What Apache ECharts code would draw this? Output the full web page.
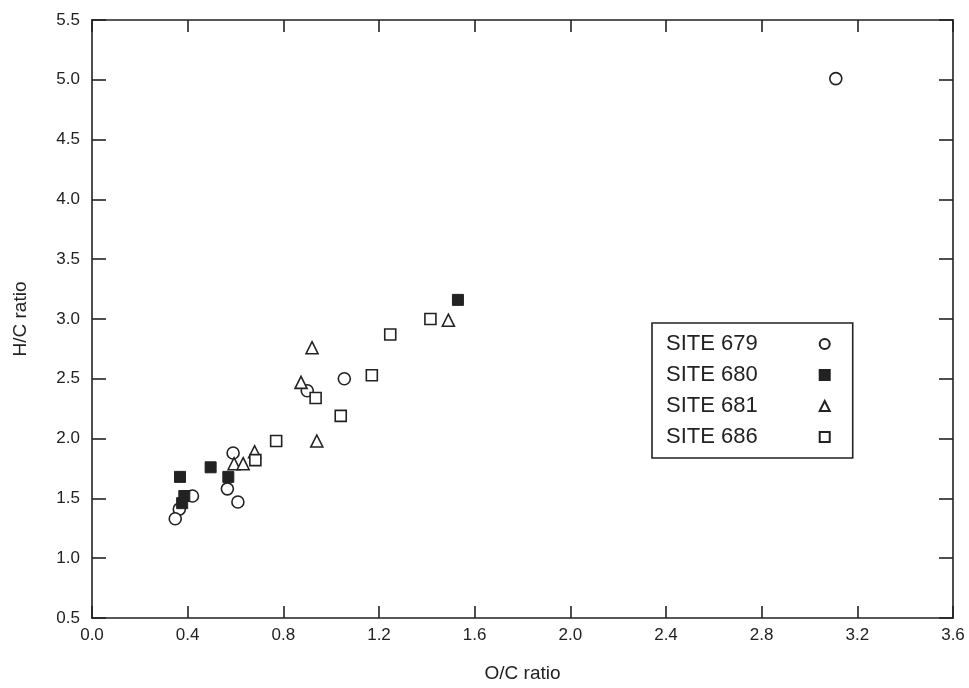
<!DOCTYPE html>
<html>
<head>
<meta charset="utf-8">
<script src="https://cdn.jsdelivr.net/npm/echarts@6/dist/echarts.min.js"></script>
<style>
  html, body { margin: 0; padding: 0; background: #fff; }
  #chart { width: 969px; height: 688px; }
</style>
</head>
<body>
<div id="chart"></div>
<script>
// [O/C, H/C] pairs
const site679 = [[3.11, 5.01], [1.055, 2.50], [0.90, 2.40], [0.59, 1.88], [0.566, 1.58],
  [0.61, 1.47], [0.42, 1.52], [0.365, 1.41], [0.348, 1.33]]
const site680 = [[1.53, 3.16], [0.368, 1.68], [0.496, 1.76], [0.57, 1.68], [0.386, 1.52], [0.377, 1.46]]
const site681 = [[1.49, 2.99], [0.92, 2.76], [0.874, 2.47], [0.94, 1.98], [0.68, 1.89],
  [0.594, 1.79], [0.632, 1.79]]
const site686 = [[1.415, 3.0], [1.247, 2.87], [1.17, 2.53], [0.935, 2.34], [1.04, 2.19],
  [0.77, 1.98], [0.683, 1.82]]
const siteNames = ["SITE 679", "SITE 680", "SITE 681", "SITE 686"]

const ink = "#222"
const font = "Liberation Sans"

const openMark = { color: "#fff", borderColor: ink, borderWidth: 1.6, opacity: 1 }

const chart = echarts.init(document.getElementById("chart"))

const xBase = { type: "value", min: 0, max: 3.6, interval: 0.4 }
const yBase = { type: "value", min: 0.5, max: 5.5, interval: 0.5 }
const lineStyle = { color: ink, width: 1.6 }

chart.setOption({
  animation: false,
  textStyle: { fontFamily: font },
  grid: { left: 92, right: 16, top: 20, bottom: 69 },
  xAxis: [
    {
      ...xBase,
      position: "bottom",
      name: "O/C ratio",
      nameLocation: "middle",
      nameGap: 46,
      nameTextStyle: { color: ink, fontSize: 19, fontFamily: font },
      axisLine: { onZero: false, lineStyle },
      axisTick: { inside: true, length: 12, lineStyle },
      axisLabel: {
        color: ink, fontSize: 17, margin: 9,
        formatter: v => v.toFixed(1)
      },
      splitLine: { show: false }
    },
    {
      ...xBase,
      position: "top",
      axisLine: { onZero: false, lineStyle },
      axisTick: { inside: true, length: 12, lineStyle },
      axisLabel: { show: false },
      splitLine: { show: false }
    }
  ],
  yAxis: [
    {
      ...yBase,
      position: "left",
      name: "H/C ratio",
      nameLocation: "middle",
      nameGap: 62,
      nameTextStyle: { color: ink, fontSize: 19, fontFamily: font },
      axisLine: { onZero: false, lineStyle },
      axisTick: { inside: true, length: 14, lineStyle },
      axisLabel: {
        color: ink, fontSize: 17, margin: 12,
        formatter: v => v.toFixed(1)
      },
      splitLine: { show: false }
    },
    {
      ...yBase,
      position: "right",
      axisLine: { onZero: false, lineStyle },
      axisTick: { inside: true, length: 14, lineStyle },
      axisLabel: { show: false },
      splitLine: { show: false }
    }
  ],
  legend: {
    orient: "vertical",
    left: 652,
    top: 323,
    align: "right",
    padding: [10, 22, 10, 14],
    itemGap: 9,
    itemWidth: 10,
    itemHeight: 10,
    borderColor: ink,
    borderWidth: 1.6,
    textStyle: {
      color: ink, fontSize: 22, fontFamily: font,
      padding: [0, 57, 0, 0]
    },
    data: siteNames
  },
  series: [
    {
      name: siteNames[0], type: "scatter", symbol: "circle", symbolSize: 12,
      itemStyle: openMark, data: site679
    },
    {
      name: siteNames[1], type: "scatter", symbol: "rect", symbolSize: 11,
      itemStyle: { color: ink, borderColor: ink, borderWidth: 1, opacity: 1 }, data: site680
    },
    {
      name: siteNames[2], type: "scatter", symbol: "triangle", symbolSize: 12,
      itemStyle: openMark, data: site681
    },
    {
      name: siteNames[3], type: "scatter", symbol: "rect", symbolSize: 11,
      itemStyle: openMark, data: site686
    }
  ]
})
</script>
</body>
</html>
